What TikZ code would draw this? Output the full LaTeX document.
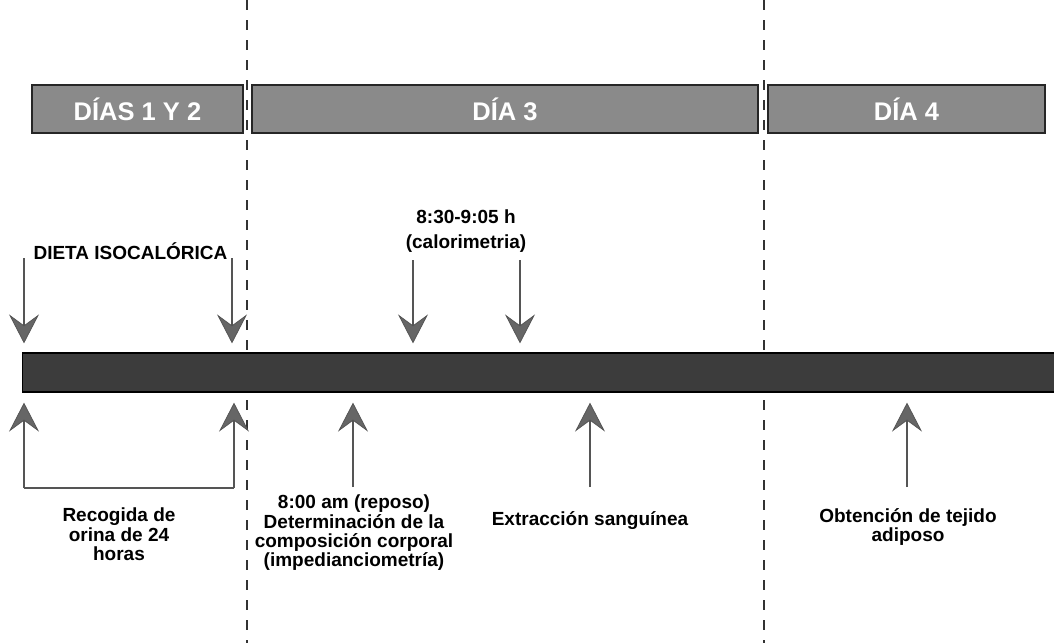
\documentclass[tikz,border=0pt]{standalone}
\usepackage{fontspec}
\setmainfont{Liberation Sans}
\usetikzlibrary{arrows.meta}
\definecolor{boxgray}{HTML}{8A8A8A}
\definecolor{bargray}{HTML}{3C3C3C}
\definecolor{arrowgray}{HTML}{555555}
\tikzset{
  daybox/.style={draw=black!85, line width=1.2pt, fill=boxgray, text=white,
    font=\bfseries\fontsize{25.5}{27}\selectfont, minimum height=48pt, inner sep=0pt},
  timebar/.style={draw=black, line width=1.2pt, fill=bargray, minimum height=39pt,
    inner sep=0pt, anchor=west},
  daysep/.style={draw=black!80, line width=2.4pt, dash pattern=on 10pt off 10pt},
  event/.style={draw=arrowgray, line width=2.2pt,
    -{Stealth[length=29pt, width=30pt, inset=11pt, fill=arrowgray!90, line width=0.8pt]}},
  bracket/.style={draw=arrowgray, line width=2pt},
  lbl/.style={font=\bfseries\fontsize{19}{19.2}\selectfont, align=center, inner sep=0pt},
}
\begin{document}
\begin{tikzpicture}[x=1pt, y=-1pt]
\useasboundingbox (0,0) rectangle (1054,643);

% day separators
\draw[daysep] (247,0) -- (247,643);
\draw[daysep] (764,0) -- (764,643);

% day headers
\node[daybox, minimum width=211pt] (d12) at (137.5,109) {DÍAS 1 Y 2};
\node[daybox, minimum width=506pt] (d3)  at (505,109)   {DÍA 3};
\node[daybox, minimum width=277pt] (d4)  at (906.5,109) {DÍA 4};

% time line
\node[timebar, minimum width=1045pt] (bar) at (22,372.5) {};

% labels
\node[lbl] (diet) at (130.5,251) {DIETA ISOCALÓRICA};
\node[lbl] (cal1) at (466,217) {8:30-9:05 h};
\node[lbl] (cal2) at (466,244) {(calorimetria)};
\node[lbl, anchor=north] (bio) at (354,495) {8:00 am (reposo)\\Determinación de la\\composición corporal\\(impedianciometría)};
\node[lbl] (blood) at (590,521) {Extracción sanguínea};
\node[lbl, anchor=north] (urine) at (119,508) {Recogida de\\orina de 24\\horas};
\node[lbl, anchor=north] (fat) at (908,508) {Obtención de tejido\\adiposo};

% arrow tails
\coordinate (t1) at (24,258);
\coordinate (t2) at (232,258);
\coordinate (t3) at (413,260);
\coordinate (t4) at (520,260);
\coordinate (b1) at (24,488);
\coordinate (b2) at (234,488);
\coordinate (b3) at (353,487);
\coordinate (b4) at (590,487);
\coordinate (b5) at (907,487);

% arrows into the time line
\foreach \c in {t1,t2,t3,t4}
  \draw[event, shorten >=9pt] (\c) -- (\c |- bar.north);
\foreach \c in {b1,b2,b3,b4,b5}
  \draw[event, shorten >=10pt] (\c) -- (\c |- bar.south);

% urine collection bracket
\draw[bracket] (b1) -- (b2);
\end{tikzpicture}
\end{document}
